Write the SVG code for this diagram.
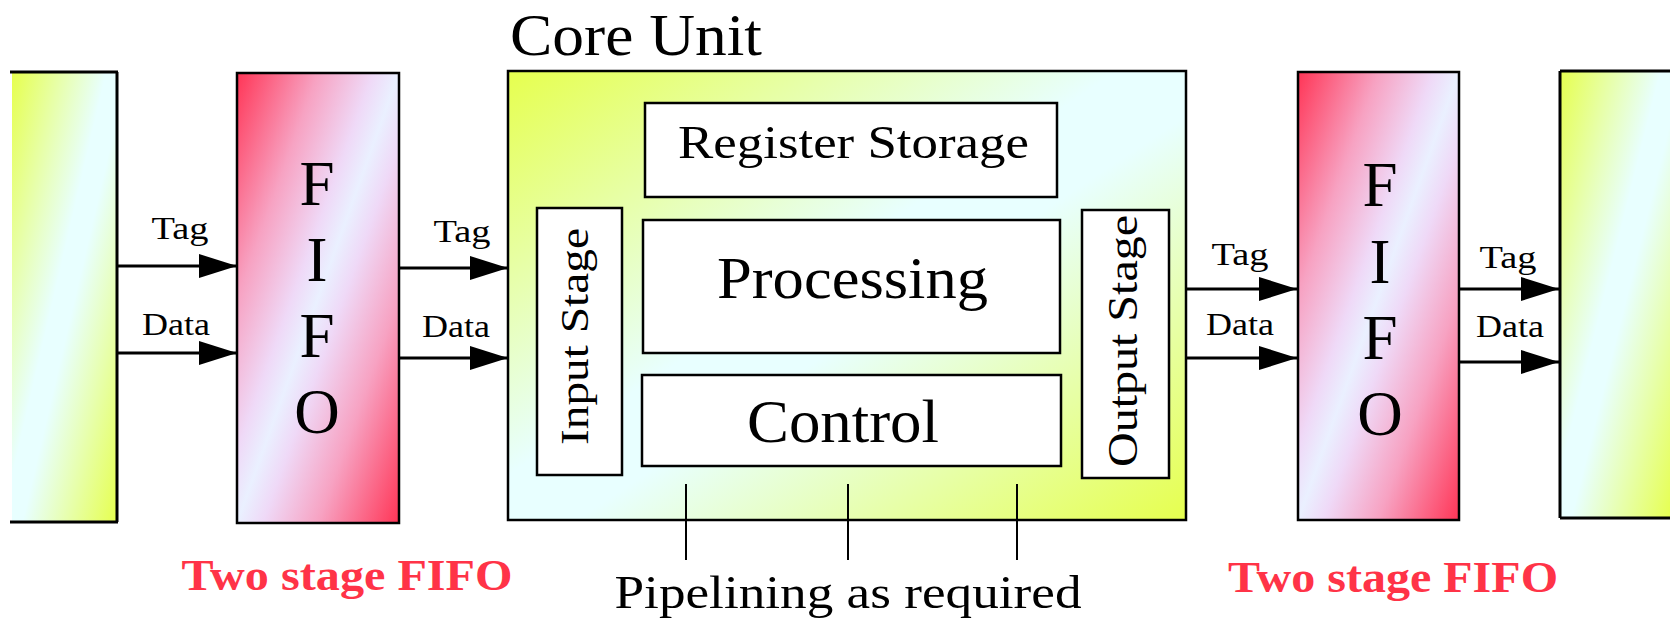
<svg xmlns="http://www.w3.org/2000/svg" width="1670" height="621" viewBox="0 0 1670 621">
  <style>
    text { font-family: "Liberation Serif", "Times New Roman", serif; fill: #000; }
    .box { fill: #fff; stroke: #000; stroke-width: 2.5; }
    .edge { fill: none; stroke: #000; stroke-width: 3; }
    .wire { fill: none; stroke: #000; stroke-width: 3; marker-end: url(#head); }
    .tick { fill: none; stroke: #000; stroke-width: 2; }
    .lbl { font-size: 31px; text-anchor: middle; }
    .fifo-letter { font-size: 63px; text-anchor: middle; }
    .note { font-size: 45px; font-weight: bold; fill: #ff3347; text-anchor: middle; }
  </style>
  <defs>
    <linearGradient id="sun" x1="0" y1="0" x2="1" y2="1">
      <stop offset="0" stop-color="#e6ff4e"/>
      <stop offset="0.45" stop-color="#e8ffff"/>
      <stop offset="0.55" stop-color="#e8ffff"/>
      <stop offset="1" stop-color="#e6ff4e"/>
    </linearGradient>
    <linearGradient id="rose" x1="0" y1="0" x2="1" y2="1">
      <stop offset="0" stop-color="#ff3556"/>
      <stop offset="0.25" stop-color="#f7a2c2"/>
      <stop offset="0.42" stop-color="#efd9f7"/>
      <stop offset="0.5" stop-color="#eaf0ff"/>
      <stop offset="0.58" stop-color="#efd9f7"/>
      <stop offset="0.75" stop-color="#f7a2c2"/>
      <stop offset="1" stop-color="#ff3556"/>
    </linearGradient>
    <marker id="head" markerUnits="userSpaceOnUse" markerWidth="38" markerHeight="24" viewBox="0 0 38 24" refX="38" refY="12" orient="auto">
      <path d="M0,0 L38,12 L0,24 z" fill="#000"/>
    </marker>
  </defs>

  <!-- upstream block (left, partly off the page) -->
  <g id="source">
    <rect x="12" y="72" width="105" height="450" fill="url(#sun)"/>
    <path class="edge" d="M10,72 H118 M117,72 V522 M10,522 H118"/>
  </g>

  <!-- input FIFO -->
  <g id="fifo-in">
    <rect x="237" y="73" width="162" height="450" fill="url(#rose)" stroke="#000" stroke-width="2.5"/>
    <text class="fifo-letter" x="317" y="205">F</text>
    <text class="fifo-letter" x="317" y="281">I</text>
    <text class="fifo-letter" x="317" y="357">F</text>
    <text class="fifo-letter" x="317" y="433">O</text>
  </g>

  <!-- core unit -->
  <g id="core">
    <text x="510" y="55" font-size="60" textLength="252" lengthAdjust="spacingAndGlyphs">Core Unit</text>
    <rect x="508" y="71" width="678" height="449" fill="url(#sun)" stroke="#000" stroke-width="2.5"/>
  </g>

  <g id="register-storage">
    <rect class="box" x="645" y="103" width="412" height="94"/>
    <text x="678" y="158" font-size="46" textLength="351" lengthAdjust="spacingAndGlyphs">Register Storage</text>
  </g>

  <g id="processing">
    <rect class="box" x="643" y="220" width="417" height="133"/>
    <text x="717" y="298" font-size="60" textLength="271" lengthAdjust="spacingAndGlyphs">Processing</text>
  </g>

  <g id="control">
    <rect class="box" x="642" y="375" width="419" height="91"/>
    <text x="747" y="442" font-size="62" textLength="192" lengthAdjust="spacingAndGlyphs">Control</text>
  </g>

  <g id="input-stage">
    <rect class="box" x="537" y="208" width="85" height="267"/>
    <text transform="translate(588,445) rotate(-90)" font-size="40" textLength="217" lengthAdjust="spacingAndGlyphs">Input Stage</text>
  </g>

  <g id="output-stage">
    <rect class="box" x="1082" y="210" width="87" height="268"/>
    <text transform="translate(1137,467) rotate(-90)" font-size="43" textLength="252" lengthAdjust="spacingAndGlyphs">Output Stage</text>
  </g>

  <!-- output FIFO -->
  <g id="fifo-out">
    <rect x="1298" y="72" width="161" height="448" fill="url(#rose)" stroke="#000" stroke-width="2.5"/>
    <text class="fifo-letter" x="1380" y="206">F</text>
    <text class="fifo-letter" x="1380" y="283">I</text>
    <text class="fifo-letter" x="1380" y="359">F</text>
    <text class="fifo-letter" x="1380" y="435">O</text>
  </g>

  <!-- downstream block (right, partly off the page) -->
  <g id="sink">
    <rect x="1560" y="71" width="112" height="447" fill="url(#sun)"/>
    <path class="edge" d="M1560,71 H1672 M1560,71 V518 M1560,518 H1672"/>
  </g>

  <!-- connectors -->
  <g id="connectors">
    <path class="wire" d="M118,266 H237"/>
    <path class="wire" d="M116,353 H237"/>
    <path class="wire" d="M399,268 H508"/>
    <path class="wire" d="M399,358 H508"/>
    <path class="wire" d="M1186,289 H1297"/>
    <path class="wire" d="M1186,358 H1297"/>
    <path class="wire" d="M1459,289 H1559"/>
    <path class="wire" d="M1459,362 H1559"/>
    <path class="tick" d="M686,484 V560 M848,484 V560 M1017,484 V560"/>
  </g>

  <!-- connector labels -->
  <g id="labels">
    <text class="lbl" x="180" y="239" textLength="57" lengthAdjust="spacingAndGlyphs">Tag</text>
    <text class="lbl" x="176" y="335" textLength="68" lengthAdjust="spacingAndGlyphs">Data</text>
    <text class="lbl" x="462" y="242" textLength="57" lengthAdjust="spacingAndGlyphs">Tag</text>
    <text class="lbl" x="456" y="337" textLength="68" lengthAdjust="spacingAndGlyphs">Data</text>
    <text class="lbl" x="1240" y="265" textLength="57" lengthAdjust="spacingAndGlyphs">Tag</text>
    <text class="lbl" x="1240" y="335" textLength="68" lengthAdjust="spacingAndGlyphs">Data</text>
    <text class="lbl" x="1508" y="268" textLength="57" lengthAdjust="spacingAndGlyphs">Tag</text>
    <text class="lbl" x="1510" y="337" textLength="68" lengthAdjust="spacingAndGlyphs">Data</text>
  </g>

  <!-- captions -->
  <g id="captions">
    <text class="note" x="347" y="590" textLength="331" lengthAdjust="spacingAndGlyphs">Two stage FIFO</text>
    <text class="note" x="1393" y="592" textLength="330" lengthAdjust="spacingAndGlyphs">Two stage FIFO</text>
    <text x="848" y="608" font-size="47" text-anchor="middle" textLength="467" lengthAdjust="spacingAndGlyphs">Pipelining as required</text>
  </g>
</svg>
